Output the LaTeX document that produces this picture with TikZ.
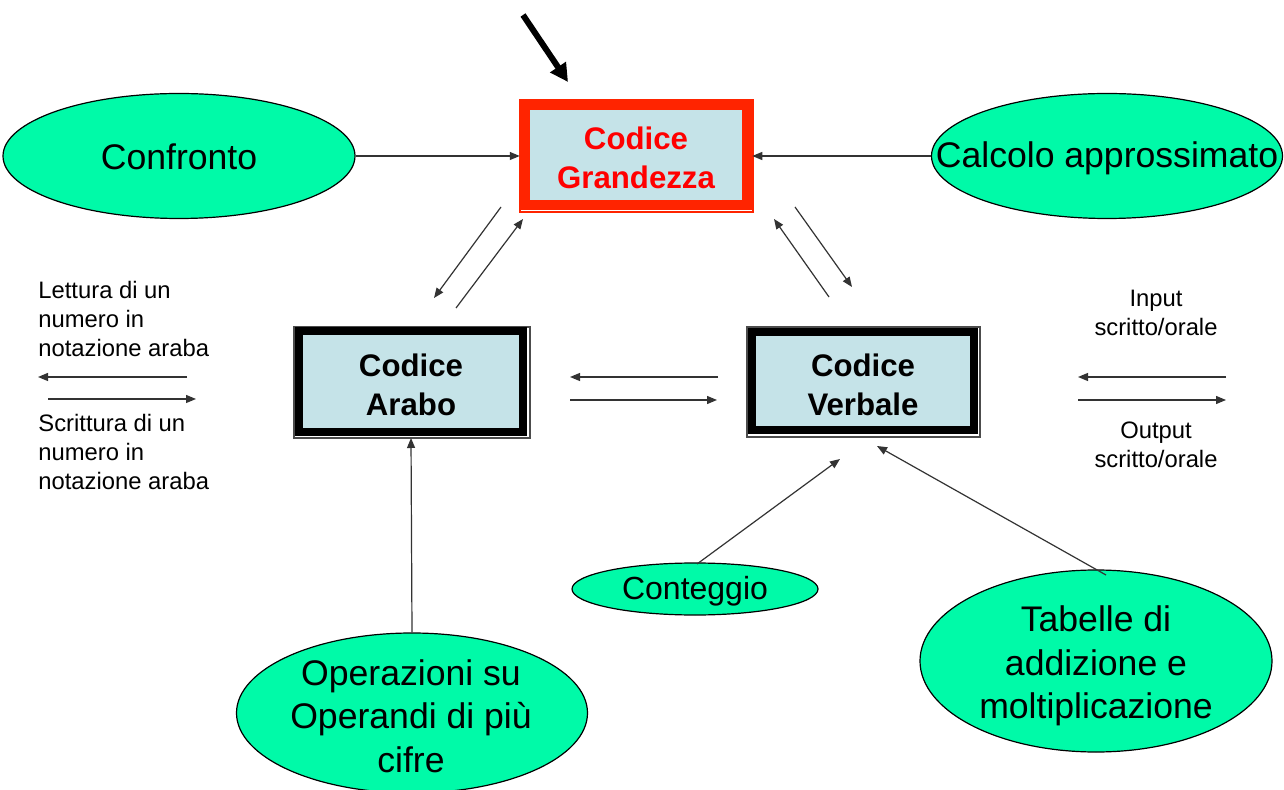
\documentclass[tikz,border=0pt]{standalone}
\usepackage{fontspec}
\setmainfont{Liberation Sans}
\usetikzlibrary{shapes.geometric,arrows.meta}
\definecolor{mint}{RGB}{0,250,168}
\definecolor{paleblue}{RGB}{197,227,232}
\definecolor{framered}{RGB}{255,36,0}
\begin{document}
\begin{tikzpicture}[x=0.5pt,y=-0.5pt,
  greenell/.style={ellipse,draw=black,line width=0.6pt,fill=mint,inner sep=0pt},
  eltext/.style={font=\fontsize{17.8}{21.7}\selectfont,align=center,inner sep=0pt},
  codebox/.style={rectangle,fill=paleblue,inner sep=0pt},
  codetext/.style={align=center,inner sep=0pt,font=\bfseries\fontsize{15.6}{19.4}\selectfont},
  smalltext/.style={font=\fontsize{11.9}{14.4}\selectfont,inner sep=0pt},
  arr/.style={draw=black!80,line width=0.6pt,-{Triangle[length=5pt,width=4pt]}},
  bigarr/.style={draw=black,line width=3pt,-{Triangle[length=9pt,width=9pt]}}
]
\useasboundingbox (0,0) rectangle (1284,790);
\fill[white] (0,0) rectangle (1284,790);

% thin outer outlines of the boxes
\draw[framered,line width=0.6pt] (520,100) rectangle (753,212);
\draw[black!70,line width=0.6pt] (294,327) rectangle (530,438);
\draw[black!70,line width=0.6pt] (747,327) rectangle (980,437);

% boxes
\node[codebox,draw=framered,line width=5pt,minimum width=111.25pt,minimum height=50pt]
  (grand) at (636,155) {};
\node[codetext,text=red] (grandt) at (636,158) {Codice\\Grandezza};
\node[codebox,draw=black,line width=4pt,minimum width=112pt,minimum height=50.5pt]
  (arabo) at (411,381.5) {};
\node[codetext] (arabot) at (411,384.5) {Codice\\Arabo};
\node[codebox,draw=black,line width=4pt,minimum width=111pt,minimum height=49pt]
  (verb) at (863,381) {};
\node[codetext] (verbt) at (863,384.5) {Codice\\Verbale};

% ellipses
\node[greenell,minimum width=176pt,minimum height=62.5pt] (conf) at (179,156) {};
\node[eltext] (conft) at (179,157) {Confronto};
\node[greenell,minimum width=175.5pt,minimum height=62.5pt] (calc) at (1107,156) {};
\node[eltext] (calct) at (1107,158.5) {Calcolo approssimato};
\node[greenell,minimum width=123pt,minimum height=26pt] (cont) at (695,589) {};
\node[eltext,font=\fontsize{16}{19.5}\selectfont] (contt) at (695,591) {Conteggio};
\node[greenell,minimum width=176pt,minimum height=91pt] (tab) at (1096,661) {};
\node[eltext] (tabt) at (1096,666) {Tabelle di\\addizione e\\moltiplicazione};
\node[greenell,minimum width=175.5pt,minimum height=80pt] (oper) at (412,713) {};
\node[eltext] (opert) at (411,716) {Operazioni su\\Operandi di più\\cifre};

% side texts
\node[smalltext,anchor=west,align=left] (lett) at (38,319) {Lettura di un\\numero in\\notazione araba};
\node[smalltext,anchor=west,align=left] (scri) at (38,452) {Scrittura di un\\numero in\\notazione araba};
\node[smalltext,align=center] (inp) at (1156,313) {Input\\scritto/orale};
\node[smalltext,align=center] (outp) at (1156,445) {Output\\scritto/orale};

% coordinates for free arrow ends
\coordinate (bigA) at (523,15);
\coordinate (bigB) at (568,82);
\coordinate (la1) at (501,207); \coordinate (la2) at (434,298);
\coordinate (lb1) at (456,308); \coordinate (lb2) at (523,219);
\coordinate (rc1) at (829,297); \coordinate (rc2) at (774,219);
\coordinate (rd1) at (795,207); \coordinate (rd2) at (852,287);
\coordinate (ha1) at (718,377); \coordinate (ha2) at (570,377);
\coordinate (hb1) at (570,400); \coordinate (hb2) at (717,400);
\coordinate (l1a) at (187,377); \coordinate (l1b) at (38,377);
\coordinate (l2a) at (48,399);  \coordinate (l2b) at (196,399);
\coordinate (r1a) at (1226,377); \coordinate (r1b) at (1078,377);
\coordinate (r2a) at (1078,400); \coordinate (r2b) at (1226,400);
\coordinate (contTop) at (697,564); \coordinate (contEnd) at (840,459);
\coordinate (tabTop) at (1106,575); \coordinate (tabEnd) at (877,446);

% connectors
\draw[bigarr] (bigA) -- (bigB);
\draw[arr] (conf.east) -- (conf.east -| grand.west);
\draw[arr] (calc.west) -- (calc.west -| grand.east);
\draw[arr] (la1) -- (la2);
\draw[arr] (lb1) -- (lb2);
\draw[arr] (rc1) -- (rc2);
\draw[arr] (rd1) -- (rd2);
\draw[arr] (ha1) -- (ha2);
\draw[arr] (hb1) -- (hb2);
\draw[arr] (l1a) -- (l1b);
\draw[arr] (l2a) -- (l2b);
\draw[arr] (r1a) -- (r1b);
\draw[arr] (r2a) -- (r2b);
\draw[arr] (oper.north) -- (arabo.south |- 0,438);
\draw[arr] (contTop) -- (contEnd);
\draw[arr] (tabTop) -- (tabEnd);
\end{tikzpicture}
\end{document}
